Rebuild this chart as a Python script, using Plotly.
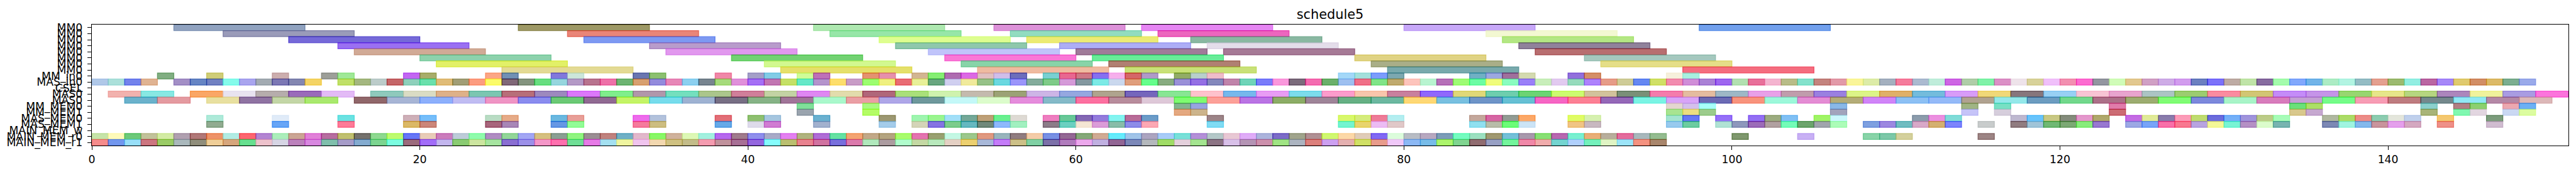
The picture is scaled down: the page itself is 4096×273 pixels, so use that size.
import plotly.graph_objects as go

ROW_LABELS = ["MM0","MM0","MM0","MM0","MM0","MM0","MM0","MM0","MM_in0","MAS_in0","CSEL","MAS0","MAS0",
              "MM_MEM0","MM_MEM1","MAS_MEM0","MAS_MEM1","MAIN_MEM_w","MAIN_MEM_r0","MAIN_MEM_r1"]
X_TICKS = [0,20,40,60,80,100,120,140]
X_MAX = 151
TITLE = "schedule5"

# start, duration and shown colour of each box, row by row
R0_START = [5,26,44,55,64,80,98]
R0_COLOR = ["#90A2BF","#9D9862","#AEE8B0","#DC92D8","#E586F2","#C7A8F8","#72A0EC"]
R1_START = [8,29,45,56,65,85]
R1_COLOR = ["#9A9BB9","#E98578","#97E6A8","#92DCC0","#EC64BE","#F3F8D2"]
R2_START = [12,30,48,57,67,86]
R2_COLOR = ["#7569D8","#7D99F2","#DEFE90","#ECEB74","#8AB8A2","#B4E784"]
R3_START = [15,34,49,59,68,87]
R3_COLOR = ["#9A70F2","#B89CCB","#8FC8AC","#ADADF6","#E4DDEA","#90829B"]
R4_START = [16,35,51,60,69,88]
R4_COLOR = ["#D1AA96","#E198EE","#C0C4FA","#A07B99","#A67A96","#B86E70"]
R5_START = [20,39,52,61,77,91]
R5_COLOR = ["#8DD2AC","#72D272","#F978D6","#68EC98","#E0D384","#A5C8BE"]
R6_START = [21,41,53,62,78,92]
R6_COLOR = ["#E2F068","#D2F890","#88D4A8","#B08072","#A9AE88","#E5DE88"]
R7_START = [25,42,54,63,79,97]
R7_COLOR = ["#E3DA94","#E5E06A","#EFBBA0","#C9E178","#78A9AC","#F46D7F"]
LONG_DURATION = 8

R8_START = [4,7,11,14,15,19,20,24,25,28,29,33,34,38,40,41,43,44,47,48,50,51,52,53,54,55,56,58,59,60,61,62,63,64,66,67,68,76,77,78,79,84,85,86,87,90,91,96,97]
R8_COLOR = ["#81AE82","#CFCD78","#CCAEAE","#9D9F99","#A0E898","#C267F2","#A8AD6B","#FCA686","#7190B4","#8178DC","#CCE6DA","#6A76B0","#8CC070","#F088A8","#A49FC8","#82CCE6","#D0FC98","#BE70B8",
            "#E49270","#E690AC","#D2B592","#85EE73","#AE6CB0","#DC6AE4","#E0C0C0","#D0BEEA","#6C6EBC","#78D0D2","#E86790","#CE7886","#8670F0","#F6B0EC","#D56468","#AF9AC8","#92AC64","#B8CFCC","#EFBCCA",
            "#A4D8F8","#A4E0DC","#7C9CFC","#7CA8B0","#70B0C4","#9CA8E0","#A0709C","#D4DAB0","#9270DC","#D48F68","#F6F0DC","#A8F0E0"]

R9_START = [0,1,2,3,5,6,7,8,9,10,11,12,13,15,16,17,18,19,20,21,22,23,24,25,26,27,28,29,30,31,32,33,34,35,36,37,38,39,40,41,42,43,44,45,46,47,48,49,50,51,52,53,54,55,56,57,58,59,60,61,62,63,64,65,66,67,68,69,70,71,72,73,74,75,76,77,78,79,80,81,82,83,84,85,86,87,88,89,90,91,92,93,94,95,96,97,98,99,100,101,102,103,104,105,106,107,108,109,110,111,112,113,114,115,116,117,118,119,120,121,122,123,124,125,126,127,128,129,130,131,132,133,134,135,136,137,138,139,140,141,142,143,144,145,146,147,148]
R9_COLOR = ["#B0C8E8","#ABE0DA","#7383EC","#E0B392","#A38FC6","#6585C4","#7181C2","#85FBEB","#A9A5EE","#A3ABB2","#7C78B4","#8487B1","#F4D463","#C0E068","#A4B780","#BCCCCA","#C56668","#8ED0BB","#6AE0AC",
            "#E0BC78","#A19E76","#FC9C80","#FBFB6B","#806878","#84947F","#68DE80","#96D6DE","#B49AC6","#B8748E","#EE70A8","#6DB472","#D8A070","#938BDC","#E787B7","#8CD0F0","#788590","#A6DB7C","#E090DA","#A570F5","#C276B2","#C5E064","#62E8C8","#B494CC","#FDDE6C","#C89CC6",
            "#9CFD70","#EFF080","#E96C74","#E8F098","#69A680","#D0CFF0","#F0EA9C","#96C288","#6BD8E0","#9B95FA","#84AC9C","#7FCB88","#D59AD8","#8498A0","#7CEAE6","#CAD8EE","#E09E7C","#60FE8C","#88AC80","#9A90D8","#9470E4","#8488BC","#C084AA","#6FD4B8","#7A7CFA","#FA98DC","#7C6C7C",
            "#F46CB0","#6BB06A","#9EC0F0","#F07088","#80E488","#C0AA6E","#FDC4BC","#B8F4D0","#B670B8","#9EFC74","#6CFCA4","#F0FC7C","#8AFCC0","#9A80F8","#C8EEBA","#E2CAF0","#96DBBC","#AD82FC","#E69C88","#CFCC98","#6488F2","#D0E064","#F28CAF","#D08ED8","#AA82D6","#9E66F0",
            "#B2E0B0","#E8709A","#F4B4D0","#B8BC88","#84E2CC","#C4847E","#E29AA8","#FAF59A","#DDECA8","#A4B0BF","#F57C9C","#ABBAD0","#C0EDDB","#CE66E4","#AFCDA8","#80F2A8","#DB90C6","#EEE3EA","#D8D29A","#F0C0FA","#F290B0","#FC6CD0","#9396A0","#D0FCB8","#E2C88F","#D0A0C4",
            "#CEACE6","#D29CEE","#6C80C0","#7C72FA","#BEABA4","#C0E4A8","#876CA0","#A4FCAC","#82A8FC","#72B4E8","#ACECC4","#B2F4E2","#94BCC4","#E4A090","#9CBA70","#92EEE2","#BA62A2","#A688F8","#E0CA6E","#D28E64","#DCBA68","#7CAE90","#9AAAEA"]

R11_START = [1,3,6,8,10,12,14,17,19,21,23,25,27,29,31,33,35,37,39,41,43,45,47,49,51,53,55,57,59,61,63,65,67,69,71,73,75,77,79,81,83,85,87,89,91,93,95,97,99,101,103,105,107,109,111,113,115,117,119,121,123,125,127,129,131,133,135,137,139,141,143,145,147,149]
R11_COLOR = ["#F2B2AE","#88E8E3","#FAA766","#E8E3F0","#B6ADAC","#9A6BBA","#E3BBF6","#8FC9BC","#DADCC4",
             "#DEB189","#7BC6B1","#B76F79","#9D89BE","#DC78FA","#80EE8C","#B197AA","#74DFBE","#ABC68C","#D07F9A","#C3D3A4","#DF87F2","#E2DCAC",
             "#B0677A","#AAE07A","#CFF2AE","#C4BAAE","#9CA276","#CDB5E6","#95A7E0","#AFA48E","#7564BC","#88E694","#FEC2CC","#76B8EC","#E89CF4","#7CDCEC",
             "#FC9CCC","#F8C6AC","#C8809E","#9068FC","#E0D878","#6ECEAE","#6CD474","#CCFC70","#D2C29C","#7A9078","#F47CAC","#E4BCA0","#9EB8C6",
             "#E8A0E8","#C09CAC","#9A80E0","#DCF488","#E0B068","#74BCDC","#D89CF8","#F0D878","#87767C","#98D0F4","#F8C4D4","#E8A4CE","#ACC4C4",
             "#9CCC70","#FA8CA0","#D2C674","#C48CF8","#C594E8","#98D670","#E6E68A","#B6D680","#AC86BC","#F0F29C","#A99CE2","#FC74DC"]

R12_START = [2,4,7,9,11,13,16,18,20,22,24,26,28,30,32,34,36,38,40,42,44,46,48,50,52,54,56,58,60,62,64,66,68,70,72,74,76,78,80,82,84,86,88,90,92,94,96,98,100,102,104,106,108,110,112,114,116,118,120,122,124,126,128,130,132,134,136,138,140,142,144,146,148]
R12_COLOR = ["#6BB2CC","#E49AA0","#E8E0A0","#8F73A2","#C3D6A6","#A9E96E","#90676A","#A7B5D5","#8CAFFC",
             "#C0BCF2","#EF94C4","#8A8CEF","#6BC975","#906A92","#C4F463","#76DCEC","#9EB2D2","#776F84","#86B386","#A07598","#A9F8CC","#EA9EA4",
             "#AEA6E8","#6E989C","#C4F8F8","#DCFCCC","#E58CDC","#84BAC8","#FC70A0","#B88C9C","#DEC8D8","#7EFC70","#FCA098","#BA74E4","#8CAC60",
             "#9E8498","#66B084","#6CB8A0","#FED874","#78C0E0","#6E94C8","#64C0D4","#F664C4","#FC8094","#9468B8","#7AF4E4","#D8A4F8","#6B6AB4",
             "#F8937C","#9CF8DA","#E48CD4","#B4AC78","#D084F8","#8CC0F4","#94BAF8","#B0A290","#94E8EA","#6C9CC0","#72D88C","#AC7088","#9CAC70",
             "#80FC74","#7C88DC","#A8F4C8","#D87CBC","#C4A0D4","#74FC88","#F79CB4","#BE7C80","#74888C","#90E8F4","#B488A6","#DCB8B8"]

R13_START = [43,47,66,67,96,97,98,106,114,116,123,134,135,142,144,145,147,148]
R13_COLOR = ["#80E09A","#A8FA80","#84B490","#98A4E0","#E4D6D0","#D4C0EC","#A8FFFA","#8AB8E8","#A0B484","#78E0C4","#E07CAA","#6BE07A","#ACE064","#8CD0CC","#B08084","#8CD070","#ECA8B0","#6CB0F4"]
R14_START = [43,47,66,67,96,97,98,106,114,116,123,134,135,142,144,145,147,148]
R14_COLOR = ["#9AA4AE","#B4FC60","#E4A880","#CCB48C","#A8E490","#ECDE80","#9CCC8C","#A2A4BC","#C6C4F8","#D6CEDC","#CC6C74","#D8C88C","#C6A8D0","#A8B478","#80F8B0","#E2D6E0","#CAD8F2","#DCFCA0"]

R15_START = [7,11,15,19,20,24,25,28,29,33,34,38,40,41,44,48,50,51,52,53,54,55,56,58,59,60,61,62,63,64,68,76,77,78,79,84,85,86,87,90,91,96,97,99,101,102,103,105,106,111,112,113,117,118,119,120,121,122,124,125,126,127,128,129,130,131,132,133,136,137,138,139,140,141,143,146]
R15_COLOR = ["#AEEAD9","#E0EBF8","#6CE2E2","#CEB0B8","#76BEFA","#B9DCC4","#E6AB88","#6BB8E0","#E89F98","#EE6CEC","#B3C2DC","#E26F78","#8EC070","#A6C6DF","#6BB1D0",
             "#9C9872","#9FF5B0","#9AF590","#A2DFF8","#74A898","#BEA078","#6AF090","#DEDAD4","#EE7EC0","#68C898","#8468B4","#947CDC","#84F4F0","#B86C98","#6C9CC8","#9C8488",
             "#D8F86C","#D5EC7C","#EE7C98","#B4EEF0","#C4A89C","#D664A4","#929C94","#FCA868","#E0FC64","#D6F0B0","#A4E4D0","#6478F4","#9670F8",
             "#9470F4","#9CAC80","#80C0F4","#A0F464","#CCF8FC","#8C9CAC","#EC90E0","#80DCD8","#BEB8D0","#68C4FC","#C8C884","#848C7C","#E498CC","#B0A86C","#C46CE4","#E0EA98",
             "#8A7CAC","#FC9CB8","#BFDC70","#6C6CDC","#74B0F8","#A094DC","#BCCC88","#A8FCB8","#B0B8A0","#ACDC68","#EC8C88","#8CCCB0","#E4E6DC","#C0D0EC","#F4C870","#7C9C7C"]

R16_START = [7,11,15,19,20,24,25,28,29,33,34,38,40,41,44,48,50,51,52,53,54,55,56,58,59,60,61,62,63,64,68,76,77,78,79,84,85,86,87,90,91,96,97,99,100,101,102,103,104,105,106,108,109,110,111,112,113,115,117,118,119,120,121,122,124,125,126,127,128,129,130,131,132,133,136,137,138,139,140,141,143,146]
R16_COLOR = ["#90AB90","#67A5F6","#FD7B98","#DBB865","#CB867A","#A8647C","#A886B6","#6497E4","#92FC96","#F57A9C","#CDBD80","#65A9E8","#DEDBEB","#D07CD2","#A2B1CE",
             "#A4CCEA","#D4D4B8","#8574E2","#7CCC8C","#66B8C0","#70887A","#8EB8FC","#A2F0C0","#8C7C88","#6CD0C0","#F5E6D4","#DB9CD8","#88BCA8","#8C8CE8","#FCA8B4","#80DCF4",
             "#74F4D0","#E8D46C","#ECBCF4","#E0C8C8","#90E0F0","#B8BCA8","#6CFC78","#CCE4F6","#F0C484","#C8B8C0","#98CAEE","#6CCCA0","#B0E2D4",
             "#8E98BC","#9C6CB8","#B0A0A0","#74FCB8","#6CA46C","#A0A4AC","#ACFCB8","#7EA0E0","#9C88E0","#70BCC0","#D8A8C8","#D4B070","#7C84FC","#C8CCCC","#907C80","#A0C4D8","#70B874","#7CA874","#88EC7C","#9878D0","#9CA8E4","#78A4F8",
             "#F870A8","#F87890","#B8A4E0","#F4F898","#78F4D4","#B490C4","#DCFCCC","#78B4B0","#7C88B4","#A0F4E0","#84B8EC","#C8949C","#E4A0EC","#D4A8C0","#EE9088","#D0BCD0"]

R18_START = [0,1,2,3,4,5,6,7,8,9,10,11,12,13,14,15,16,17,18,19,20,21,22,23,24,25,26,27,28,29,30,31,32,33,34,35,36,37,38,39,40,41,42,43,44,45,46,47,48,49,50,51,52,53,54,55,56,57,58,59,60,61,62,63,64,65,66,67,68,69,70,71,72,73,74,75,76,77,78,79,80,81,82,83,84,85,86,87,88,89,90,91,92,93,94,95,100,104,108,109,110,115]
R18_COLOR = ["#C6E4A8","#FEFABA","#6CC979","#C2C29A","#D3EBA4","#B0A0B0","#B17878","#EE9268","#B2ECE4","#FD6570","#B384D2","#ABEEBB","#CBA594","#E180D8","#B76EA0","#C0C070","#74716C","#8ED990","#BEFB6F","#6276F7","#E8CCB8",
             "#CB7CBC","#BDCCD9","#8FFCAC","#B08CC2","#92D698","#A3A6F4","#D6C080","#8A9F93","#90F580","#9A8E93","#C0827E","#6FB0C6","#E2B8CB","#88F85E","#D0B29C","#DDF8B6","#A3F0DF","#B668EE","#A07B8C","#8F8FEC","#A8AAC8","#E380F0","#B0B47E","#B06DD6","#63E2A3","#F4A472",
             "#C2A888","#B4A480","#A8FC6C","#E474B0","#98A070","#C4F8E4","#9CC88C","#E09880","#98B4BC","#907C80","#F4CCA8","#7890E4","#946894","#84A878","#D0AA94","#60ECFC","#A0C4E8","#ACA4C0","#A8CCF8","#78E0D8","#B490D8","#B4C8C8","#E8C8D4","#E0ACF8","#ACB4DC","#7C6CC8","#A0A48C",
             "#B09094","#D0F870","#FCD8A8","#E0CCB8","#8068F4","#DCFCDC","#B8BCC4","#B8A8C0","#7C9CB8","#74FCC0","#9CE0C0","#A09870","#74C0D8","#A898AC","#88E074","#B868B0","#78F0D0","#E8AE78","#B8AE9C","#E46C9C","#A8B8BC","#94BC90",
             "#7F986E","#C8B0F4","#88D4A8","#7CC8A8","#D4D09C","#9C8484"]

R19_START = [0,1,2,3,4,5,6,7,8,9,10,11,12,13,14,15,16,17,18,19,20,21,22,23,24,25,26,27,28,29,30,31,32,33,34,35,36,37,38,39,40,41,42,43,44,45,46,47,48,49,50,51,52,53,54,55,56,57,58,59,60,61,62,63,64,65,66,67,68,69,70,71,72,73,74,75,76,77,78,79,80,81,82,83,84,85,86,87,88,89,90,91,92,93,94,95]
R19_COLOR = ["#F58C8C","#7297EE","#98DFF8","#CC7680","#9ACB64","#AAB8BC","#908E7C","#EFCE98","#D6A67D","#65DF8F","#EDC2CC","#D6D5E4","#BC82BC","#D888E0","#80BFAC","#A69CC8","#84ABCF","#7CD490","#7BFCE0","#9B6A7C","#A26DF8",
             "#C3B6EE","#8ACB72","#CCE5A0","#A6E4A0","#8A6FD2","#9C90E8","#F497C8","#FE70AE","#6FDE96","#E67AE6","#A4E0F0","#EFF5A0","#F0C4EE","#F2D8B0","#CFC182","#C3BC8A","#F49CB0","#C0929C","#A77095","#9363DE","#85FCFC","#BABF70","#E8828F","#D072A0","#786FDC","#DB7AAC",
             "#B0E8BC","#AC9CA0","#B0FCCC","#C4D8A4","#B8E8BC","#E4D0C4","#ECD070","#A8B8D8","#C47CF8","#CCC088","#80D0A4","#7C70A8","#B07CBC","#ECA8EC","#C0B0E0","#925F94","#7C88B8","#B4B8BC","#A0DC64","#E4D0DC","#A4E490","#8C7484","#D8C0E8","#B494B4","#CC90AC","#A0E484","#ACB4C0",
             "#DC807C","#CCA0F0","#E4B0B0","#D0E060","#E89C8C","#F0C8F8","#8CB8F4","#78BCE8","#ACF46C","#80D490","#906C70","#98A0C4","#74F49C","#F088A8","#F0ACAC","#74D4D0","#B0D0FC","#74F0BC","#E0F4C4","#9CE4F8","#F49280","#A8866C"]

ROWS = [(0,R0_START,R0_COLOR,LONG_DURATION),(1,R1_START,R1_COLOR,LONG_DURATION),(2,R2_START,R2_COLOR,LONG_DURATION),
        (3,R3_START,R3_COLOR,LONG_DURATION),(4,R4_START,R4_COLOR,LONG_DURATION),(5,R5_START,R5_COLOR,LONG_DURATION),
        (6,R6_START,R6_COLOR,LONG_DURATION),(7,R7_START,R7_COLOR,LONG_DURATION),
        (8,R8_START,R8_COLOR,1),(9,R9_START,R9_COLOR,1),(11,R11_START,R11_COLOR,2),(12,R12_START,R12_COLOR,2),
        (13,R13_START,R13_COLOR,1),(14,R14_START,R14_COLOR,1),(15,R15_START,R15_COLOR,1),(16,R16_START,R16_COLOR,1),
        (18,R18_START,R18_COLOR,1),(19,R19_START,R19_COLOR,1)]

ALPHA = 0.6

def translucent(shown):
    # colour which, drawn at ALPHA over white, shows as `shown`
    parts = [int(shown[i:i+2], 16) for i in (1, 3, 5)]
    solid = [max(0, min(255, round((p - 255 * (1 - ALPHA)) / ALPHA))) for p in parts]
    return f"rgba({solid[0]},{solid[1]},{solid[2]},{ALPHA})"

fig = go.Figure()
for row, starts, colors, dur in ROWS:
    assert len(starts) == len(colors), (row, len(starts), len(colors))
    rgba = [translucent(c) for c in colors]
    fig.add_trace(go.Bar(
        orientation="h", y=[row] * len(starts), x=[dur] * len(starts), base=starts, width=1.0,
        marker=dict(color=rgba, line=dict(color=rgba, width=1.25)),
        showlegend=False,
    ))

FONT = "DejaVu Sans"
fig.update_layout(
    width=4096, height=273, autosize=False, barmode="overlay", plot_bgcolor="white", paper_bgcolor="white",
    margin=dict(l=146, r=12, t=39, b=42, pad=0, autoexpand=False),
    font=dict(family=FONT, size=17.3, color="black"),
    title=dict(text=TITLE, font=dict(family=FONT, size=20.8, color="black"), x=0.5, xref="paper", xanchor="center",
               y=1, yref="paper", yanchor="bottom", pad=dict(b=9), automargin=False),
    xaxis=dict(range=[0, X_MAX], tickmode="array", tickvals=X_TICKS, ticktext=[str(v) for v in X_TICKS],
               ticks="outside", ticklen=6, tickwidth=1.4, tickcolor="black", showgrid=False, zeroline=False, automargin=False,
               showline=True, linecolor="black", linewidth=1.4, mirror=True, tickangle=0),
    yaxis=dict(range=[19.5, -0.5], tickmode="array", tickvals=list(range(len(ROW_LABELS))), ticktext=ROW_LABELS,
               ticks="outside", ticklen=6, tickwidth=1.4, tickcolor="black", showgrid=False, zeroline=False, automargin=False,
               showline=True, linecolor="black", linewidth=1.4, mirror=True, ticklabelstandoff=4, tickangle=0),
)
fig.write_html("out.html", config={"displayModeBar": False},
               post_script="document.documentElement.style.overflow='hidden';document.body.style.margin='0';")
